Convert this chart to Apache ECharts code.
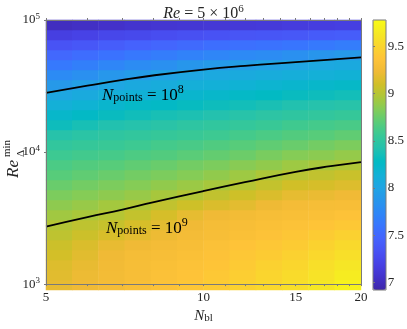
<!DOCTYPE html>
<html>
<head>
<meta charset="utf-8">
<script src="https://cdn.jsdelivr.net/npm/echarts@6/dist/echarts.min.js"></script>
<style>
  html, body { margin: 0; padding: 0; background: #fff; }
  #chart { width: 407px; height: 329px; }
</style>
</head>
<body>
<div id="chart"></div>
<script>
// cell centres of the colour field (log spaced)
const nblCells = [5.30, 5.95, 6.68, 7.49, 8.41, 9.44, 10.6, 11.9, 13.4, 15.0, 16.8, 18.9];
const reCells = [1089, 1292, 1531, 1815, 2154, 2553, 3027, 3594, 4266, 5058, 5998, 7112, 8435, 10000,
  11858, 14060, 16672, 19770, 23442, 27797, 33035, 39170, 46452, 55081, 65313, 77446, 91833];

// log10(N_points), one row per reCells entry (bottom to top), one column per nblCells entry
const logPoints = [
  [9.20, 9.24, 9.27, 9.31, 9.35, 9.39, 9.43, 9.48, 9.52, 9.57, 9.64, 9.71],
  [9.17, 9.22, 9.26, 9.30, 9.34, 9.37, 9.41, 9.45, 9.50, 9.54, 9.60, 9.67],
  [9.15, 9.20, 9.25, 9.29, 9.32, 9.35, 9.38, 9.42, 9.47, 9.51, 9.57, 9.62],
  [9.11, 9.17, 9.24, 9.28, 9.30, 9.33, 9.36, 9.40, 9.43, 9.47, 9.52, 9.57],
  [9.08, 9.14, 9.20, 9.24, 9.27, 9.30, 9.34, 9.37, 9.40, 9.43, 9.48, 9.53],
  [9.03, 9.08, 9.13, 9.18, 9.22, 9.27, 9.30, 9.33, 9.36, 9.39, 9.43, 9.47],
  [8.99, 9.03, 9.06, 9.12, 9.18, 9.24, 9.28, 9.30, 9.33, 9.35, 9.38, 9.41],
  [8.93, 8.96, 9.00, 9.05, 9.12, 9.19, 9.24, 9.26, 9.29, 9.31, 9.33, 9.36],
  [8.87, 8.90, 8.94, 8.98, 9.04, 9.09, 9.14, 9.18, 9.23, 9.27, 9.29, 9.30],
  [8.81, 8.84, 8.87, 8.90, 8.95, 8.99, 9.04, 9.09, 9.14, 9.19, 9.21, 9.24],
  [8.75, 8.78, 8.81, 8.84, 8.88, 8.91, 8.95, 9.00, 9.05, 9.10, 9.12, 9.15],
  [8.69, 8.72, 8.75, 8.78, 8.81, 8.84, 8.88, 8.92, 8.97, 9.01, 9.04, 9.07],
  [8.64, 8.67, 8.69, 8.72, 8.75, 8.78, 8.81, 8.85, 8.88, 8.92, 8.95, 8.98],
  [8.58, 8.60, 8.62, 8.65, 8.67, 8.70, 8.73, 8.76, 8.80, 8.84, 8.86, 8.89],
  [8.52, 8.54, 8.56, 8.58, 8.61, 8.63, 8.66, 8.69, 8.72, 8.75, 8.78, 8.81],
  [8.44, 8.47, 8.50, 8.52, 8.54, 8.56, 8.58, 8.61, 8.64, 8.67, 8.69, 8.72],
  [8.33, 8.37, 8.41, 8.43, 8.46, 8.49, 8.51, 8.53, 8.56, 8.59, 8.61, 8.63],
  [8.23, 8.27, 8.31, 8.34, 8.37, 8.39, 8.42, 8.45, 8.48, 8.50, 8.52, 8.54],
  [8.13, 8.17, 8.21, 8.25, 8.27, 8.30, 8.33, 8.35, 8.38, 8.41, 8.43, 8.45],
  [8.03, 8.07, 8.12, 8.15, 8.18, 8.21, 8.23, 8.26, 8.28, 8.31, 8.33, 8.35],
  [7.90, 7.96, 8.02, 8.06, 8.09, 8.12, 8.14, 8.16, 8.19, 8.21, 8.23, 8.25],
  [7.77, 7.82, 7.88, 7.93, 7.99, 8.02, 8.05, 8.07, 8.09, 8.11, 8.13, 8.15],
  [7.63, 7.68, 7.73, 7.78, 7.82, 7.87, 7.91, 7.95, 7.99, 8.01, 8.04, 8.06],
  [7.50, 7.54, 7.58, 7.62, 7.66, 7.70, 7.73, 7.76, 7.78, 7.82, 7.86, 7.90],
  [7.34, 7.37, 7.42, 7.46, 7.49, 7.52, 7.55, 7.56, 7.58, 7.60, 7.63, 7.66],
  [7.17, 7.20, 7.24, 7.26, 7.29, 7.31, 7.33, 7.35, 7.36, 7.38, 7.40, 7.42],
  [7.01, 7.03, 7.05, 7.07, 7.09, 7.10, 7.11, 7.12, 7.13, 7.15, 7.16, 7.17]
];

// iso-lines N_points = 1e8 and 1e9
const contourNbl = [5, 6, 7, 8, 10, 12, 15, 17.5, 20];
const contour8Re = [28050, 31800, 35200, 38000, 42100, 44900, 47900, 50100, 52100];
const contour9Re = [2730, 3220, 3670, 4150, 5070, 5920, 7080, 7820, 8400];

const xTicks = [5, 6, 7, 8, 9, 10, 11, 12, 13, 14, 15, 16, 17, 18, 19, 20];
const xLabels = [5, 10, 15, 20];
const yDecades = [3, 4, 5];
const cbarTicks = [7, 7.5, 8, 8.5, 9, 9.5];
const cbarRange = [6.92, 9.78];

const parula = ['#3e26a8', '#4332cb', '#4741e5', '#4852f4', '#4563fd', '#3875fe', '#2e87f7', '#2796eb',
  '#20a5e3', '#12b1d6', '#02bac3', '#24c1ae', '#37c897', '#57cc7a', '#81cc59', '#abc739', '#d1bf27',
  '#f0ba36', '#fec338', '#fad62d', '#f5e924', '#f9fb15'];

const serif = 'Liberation Serif';
const ink = '#262626';
const frame = '#7a7a7a';

const cells = [];
logPoints.forEach((row, j) => row.forEach((v, i) => cells.push([i, j, v])));

const toLog = (xs, ys) => xs.map((x, k) => [Math.log10(x), Math.log10(ys[k])]);

const plot = { left: 46, top: 20, width: 315, height: 270 };

const labelRich = {
  i: { fontFamily: serif, fontStyle: 'italic', fontSize: 17, fill: '#000', padding: [0, 0, 4, 0] },
  b: { fontFamily: serif, fontSize: 12, fill: '#000' },
  n: { fontFamily: serif, fontSize: 17, fill: '#000', padding: [0, 0, 4, 0] },
  s: { fontFamily: serif, fontSize: 12, fill: '#000', padding: [0, 0, 16, 0] }
};

const chart = echarts.init(document.getElementById('chart'));
chart.setOption({
  animation: false,
  title: {
    text: '{i|Re}{n| = 5 × 10}{s|6}',
    left: 'center',
    top: -1,
    textStyle: {
      fontWeight: 'normal',
      rich: {
        i: { fontFamily: serif, fontStyle: 'italic', fontWeight: 'normal', fontSize: 16, color: ink },
        n: { fontFamily: serif, fontWeight: 'normal', fontSize: 16, color: ink },
        s: { fontFamily: serif, fontWeight: 'normal', fontSize: 11, color: ink, padding: [0, 0, 9, 0] }
      }
    }
  },
  grid: [
    Object.assign({}, plot),
    Object.assign({}, plot),
    { left: 373, top: 20, width: 13, height: 270 }
  ],
  visualMap: {
    type: 'continuous',
    seriesIndex: 0,
    dimension: 2,
    min: cbarRange[0],
    max: cbarRange[1],
    calculable: false,
    hoverLink: false,
    orient: 'vertical',
    left: 373,
    top: 20,
    itemWidth: 13,
    itemHeight: 270,
    padding: 0,
    text: null,
    inRange: { color: parula }
  },
  xAxis: [
    { type: 'category', gridIndex: 0, data: nblCells, show: false },
    {
      type: 'value', gridIndex: 1, position: 'bottom', z: 10,
      min: Math.log10(xLabels[0]), max: Math.log10(xLabels[xLabels.length - 1]),
      name: '{i|N}{b|bl}', nameLocation: 'middle', nameGap: 23,
      nameTextStyle: {
        rich: {
          i: { fontFamily: serif, fontStyle: 'italic', fontSize: 15, color: ink, padding: [0, 0, 4, 0] },
          b: { fontFamily: serif, fontSize: 11, color: ink }
        }
      },
      axisLine: { show: true, lineStyle: { color: frame, width: 1 } },
      axisTick: { show: true, length: 2, customValues: xTicks.map(Math.log10), lineStyle: { color: frame } },
      axisLabel: {
        customValues: xLabels.map(Math.log10), margin: 7,
        fontFamily: serif, fontSize: 13, color: ink,
        formatter: v => String(Math.round(Math.pow(10, v)))
      },
      splitLine: { show: false }
    },
    {
      type: 'value', gridIndex: 1, position: 'top', z: 10,
      min: Math.log10(xLabels[0]), max: Math.log10(xLabels[xLabels.length - 1]),
      axisLine: { show: true, lineStyle: { color: frame, width: 1 } },
      axisTick: { show: true, length: 2, customValues: xTicks.map(Math.log10), lineStyle: { color: frame } },
      axisLabel: { show: false },
      splitLine: { show: false }
    },
    { type: 'value', gridIndex: 2, show: false }
  ],
  yAxis: [
    { type: 'category', gridIndex: 0, data: reCells, show: false },
    {
      type: 'value', gridIndex: 1, position: 'left', z: 10,
      min: yDecades[0], max: yDecades[yDecades.length - 1], interval: 1,
      axisLine: { show: true, lineStyle: { color: frame, width: 1 } },
      axisTick: { show: true, length: 2, lineStyle: { color: frame } },
      axisLabel: {
        margin: 6,
        formatter: v => '{b|10}{s|' + v + '}',
        rich: {
          b: { fontFamily: serif, fontSize: 13, color: ink },
          s: { fontFamily: serif, fontSize: 9, color: ink, padding: [0, 0, 7, 0] }
        }
      },
      splitLine: { show: false }
    },
    {
      type: 'value', gridIndex: 1, position: 'right', z: 10,
      min: yDecades[0], max: yDecades[yDecades.length - 1], interval: 1,
      axisLine: { show: true, lineStyle: { color: frame, width: 1 } },
      axisTick: { show: false },
      axisLabel: { show: false },
      splitLine: { show: false }
    },
    {
      type: 'value', gridIndex: 2, position: 'right', z: 10,
      min: cbarRange[0], max: cbarRange[1],
      axisLine: { show: false },
      axisTick: { show: true, length: 2, customValues: cbarTicks, lineStyle: { color: frame } },
      axisLabel: { customValues: cbarTicks, margin: 4, fontFamily: serif, fontSize: 13, color: ink },
      splitLine: { show: false }
    }
  ],
  series: [
    {
      type: 'heatmap', xAxisIndex: 0, yAxisIndex: 0, z: 1,
      data: cells, emphasis: { disabled: true }, progressive: 0
    },
    {
      type: 'line', xAxisIndex: 1, yAxisIndex: 1, z: 5,
      data: toLog(contourNbl, contour8Re), smooth: true, symbol: 'none',
      lineStyle: { color: '#000', width: 1.8 }
    },
    {
      type: 'line', xAxisIndex: 1, yAxisIndex: 1, z: 5,
      data: toLog(contourNbl, contour9Re), smooth: true, symbol: 'none',
      lineStyle: { color: '#000', width: 1.8 }
    }
  ],
  graphic: [
    {
      type: 'group', x: 14, y: 157, rotation: Math.PI / 2,
      children: [
        { type: 'text', x: -21, y: 0, style: { text: 'Re', fontFamily: serif, fontStyle: 'italic', fontSize: 17, fill: ink, verticalAlign: 'middle' } },
        { type: 'text', x: 0, y: -7, style: { text: 'min', fontFamily: serif, fontSize: 11, fill: ink, verticalAlign: 'middle' } },
        { type: 'text', x: 0, y: 7, style: { text: 'Δ', fontFamily: serif, fontSize: 11, fill: ink, verticalAlign: 'middle' } }
      ]
    },
    {
      type: 'text', x: 102, y: 98, z: 20,
      style: { text: '{i|N}{b|points}{n| = 10}{s|8}', verticalAlign: 'middle', rich: labelRich }
    },
    {
      type: 'text', x: 106, y: 231, z: 20,
      style: { text: '{i|N}{b|points}{n| = 10}{s|9}', verticalAlign: 'middle', rich: labelRich }
    },
    {
      type: 'rect', z: 20, silent: true,
      shape: { x: 373, y: 20, width: 13, height: 270 },
      style: { fill: null, stroke: frame, lineWidth: 1 }
    }
  ]
});
</script>
</body>
</html>
